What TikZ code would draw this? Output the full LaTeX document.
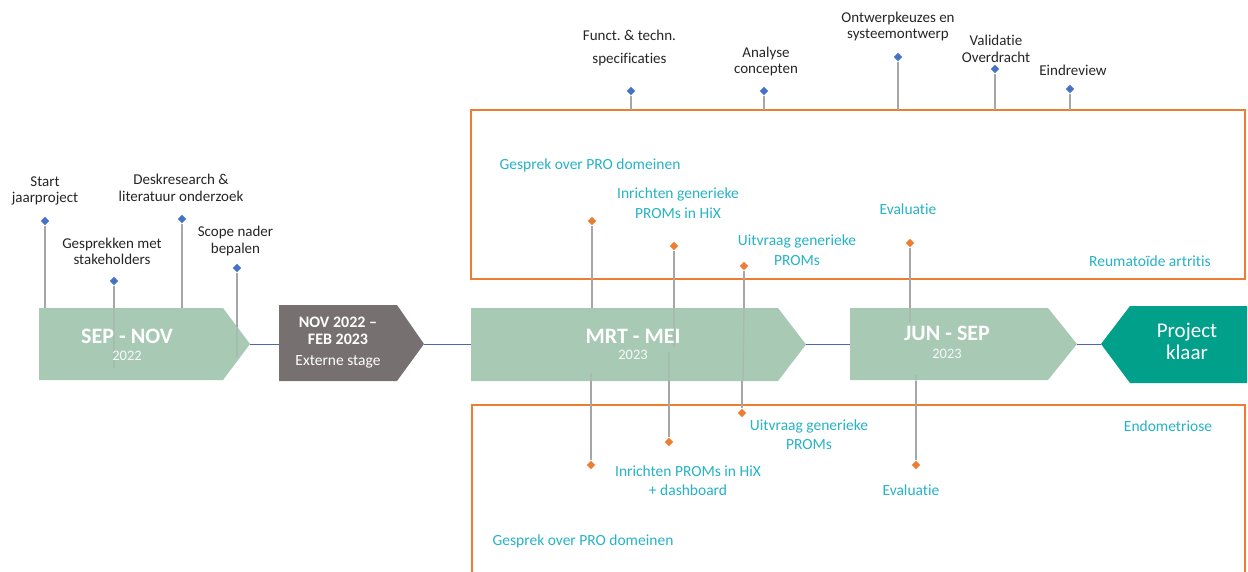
\documentclass[tikz,border=0pt]{standalone}
\usepackage{fontspec}
\setmainfont{Carlito}[Ligatures={NoCommon}]
\frenchspacing
\usetikzlibrary{shapes.geometric}
\definecolor{phase}{RGB}{168,201,180}
\definecolor{stage}{RGB}{118,113,112}
\definecolor{done}{RGB}{0,160,138}
\definecolor{frame}{RGB}{237,125,49}
\definecolor{cyantext}{RGB}{38,179,198}
\definecolor{milestone}{RGB}{68,114,196}
\definecolor{axis}{RGB}{74,103,176}
\definecolor{stemgray}{RGB}{166,166,166}
\definecolor{labeltext}{RGB}{38,38,38}
\begin{document}
\begin{tikzpicture}[x=1pt,y=-1pt,
  lbl/.style={text=labeltext, font=\fontsize{15}{16.5}\selectfont, align=center, inner sep=0},
  clbl/.style={text=cyantext, font=\fontsize{15.5}{20}\selectfont, align=center, inner sep=0},
  bdia/.style={diamond, fill=milestone, draw=white, line width=0.8pt, minimum size=10, inner sep=0},
  odia/.style={diamond, fill=frame, draw=white, line width=0.8pt, minimum size=10, inner sep=0},
  stem/.style={draw=stemgray, line width=1.4},
  faint/.style={draw=stemgray, line width=1.4, opacity=0.35},
  axisline/.style={draw=axis, line width=1},
  box/.style={draw=frame, line width=2.5},
  ptitle/.style={text=white, font=\bfseries\fontsize{22}{24}\selectfont, inner sep=0},
  pyear/.style={text=white!90!phase, font=\fontsize{14.5}{16}\selectfont, inner sep=0},
]
\clip (0,0) rectangle (1248,572);
\fill[white] (0,0) rectangle (1248,572);

% reference levels
\coordinate (boxtop) at (0,110);
\coordinate (phtop) at (0,308);
\coordinate (phbot) at (0,381);

% project-track frames
\draw[box] (471,110) rectangle (1245,279);
\draw[box] (472,405) rectangle (1245,590);

% timeline connectors between phases
\coordinate (sepTip) at (250,344);
\coordinate (novL) at (279,344);
\coordinate (novTip) at (424,344);
\coordinate (mrtL) at (471,344);
\coordinate (mrtTip) at (806,344.5);
\coordinate (junL) at (850,344.5);
\coordinate (junTip) at (1077,344);
\coordinate (doneTip) at (1101,344);
\draw[axisline] (sepTip) -- (novL);
\draw[axisline] (novTip) -- (mrtL);
\draw[axisline] (mrtTip) -- (junL);
\draw[axisline] (junTip) -- (doneTip);

% phase shapes
\fill[phase] (39,308) -- (223,308) -- (sepTip) -- (223,380) -- (39,380) -- cycle;
\fill[stage] (279,305) -- (397,305) -- (novTip) -- (397,381) -- (279,381) -- cycle;
\fill[phase] (471,308) -- (778,308) -- (mrtTip) -- (778,381) -- (471,381) -- cycle;
\fill[phase] (850,308) -- (1048,308) -- (junTip) -- (1048,380) -- (850,380) -- cycle;
\fill[done] (doneTip) -- (1130,306) -- (1247,306) -- (1247,383) -- (1130,383) -- cycle;

% marker positions (blue milestones, orange track events)
\coordinate (m1) at (45,221);
\coordinate (m2) at (114,281);
\coordinate (m3) at (182,219);
\coordinate (m4) at (237,268);
\coordinate (m5) at (631,91);
\coordinate (m6) at (764,91);
\coordinate (m7) at (898,57);
\coordinate (m8) at (995,69);
\coordinate (m9) at (1070,89);
\coordinate (r1) at (592,221);
\coordinate (r2) at (674,246);
\coordinate (r3) at (744,266);
\coordinate (r4) at (910,243);
\coordinate (e1) at (591,465);
\coordinate (e2) at (669,442);
\coordinate (e3) at (742,413);
\coordinate (e4) at (916,465);

% stems
\coordinate (m4edge) at (237,327);
\foreach \m in {m1,m2,m3,r1,r2,r3,r4} \draw[stem] (\m) -- (\m |- phtop);
\draw[stem] (m4) -- (m4edge);
\foreach \m in {m5,m6,m7,m8,m9} \draw[stem] (\m) -- (\m |- boxtop);
\foreach \m in {e1,e2,e3,e4} \draw[stem] (\m) -- (\m |- phbot);
\draw[faint] (m2 |- phtop) -- (114,368);
\draw[faint] (m4edge) -- (237,357);
\draw[faint] (r2 |- phtop) -- (674,347);
\draw[faint] (e2 |- phbot) -- (669,352);
\draw[faint] (r3 |- phtop) -- (743,381);
\draw[faint] (r4 |- phtop) -- (910,323);
\draw[faint] (e4 |- phbot) -- (916,375);
\draw[faint] (e1 |- phbot) -- (591,373);

% markers
\foreach \m in {m1,m2,m3,m4,m5,m6,m7,m8,m9} \node[bdia] (d\m) at (\m) {};
\foreach \m in {r1,r2,r3,r4,e1,e2,e3,e4} \node[odia] (d\m) at (\m) {};

% milestone labels
\node[lbl] (t1) at (45,191) {Start\\jaarproject};
\node[lbl] (t2) at (112,251.5) {Gesprekken met\\stakeholders};
\node[lbl] (t3) at (181,188) {Deskresearch \&\\literatuur onderzoek};
\node[lbl] (t4) at (235.5,241) {Scope nader\\bepalen};
\node[lbl, font=\fontsize{15}{23}\selectfont] (t5) at (629.5,48.5) {Funct. \& techn.\\specificaties};
\node[lbl] (t6) at (766,61.5) {Analyse\\concepten};
\node[lbl] (t7) at (898,26.5) {Ontwerpkeuzes en\\systeemontwerp};
\node[lbl] (t8) at (996,49) {Validatie\\Overdracht};
\node[lbl] (t9) at (1073,70) {Eindreview};

% track labels: reumatoide artritis
\node[clbl] (a1) at (590,165) {Gesprek over PRO domeinen};
\node[clbl] (a2) at (678,203.5) {Inrichten generieke\\PROMs in HiX};
\node[clbl] (a3) at (797,250) {Uitvraag generieke\\PROMs};
\node[clbl] (a4) at (908,209) {Evaluatie};
\node[clbl] (a5) at (1150,261) {Reumatoïde artritis};
% track labels: endometriose
\node[clbl, font=\fontsize{15.5}{19}\selectfont] (b3) at (809,434.5) {Uitvraag generieke\\PROMs};
\node[clbl, font=\fontsize{15.5}{19}\selectfont] (b2) at (688,480.5) {Inrichten PROMs in HiX\\+ dashboard};
\node[clbl] (b4) at (911,490) {Evaluatie};
\node[clbl] (b1) at (583,541) {Gesprek over PRO domeinen};
\node[clbl] (b5) at (1168,426) {Endometriose};

% phase texts
\node[ptitle] (p1) at (127,336) {SEP - NOV};
\node[pyear] (p1y) at (127,356) {2022};
\node[text=white, font=\bfseries\fontsize{16}{17}\selectfont, align=center, inner sep=0] (p2) at (338,330.5) {NOV 2022 –\\FEB 2023};
\node[text=white, font=\fontsize{15.5}{17}\selectfont, inner sep=0] (p2s) at (338,362) {Externe stage};
\node[ptitle] (p3) at (633,336) {MRT - MEI};
\node[pyear] (p3y) at (633,355) {2023};
\node[ptitle] (p4) at (947,333) {JUN - SEP};
\node[pyear] (p4y) at (947,354) {2023};
\node[text=white, font=\fontsize{21}{22}\selectfont, align=center, inner sep=0] (p5) at (1187,341) {Project\\klaar};
\end{tikzpicture}
\end{document}
